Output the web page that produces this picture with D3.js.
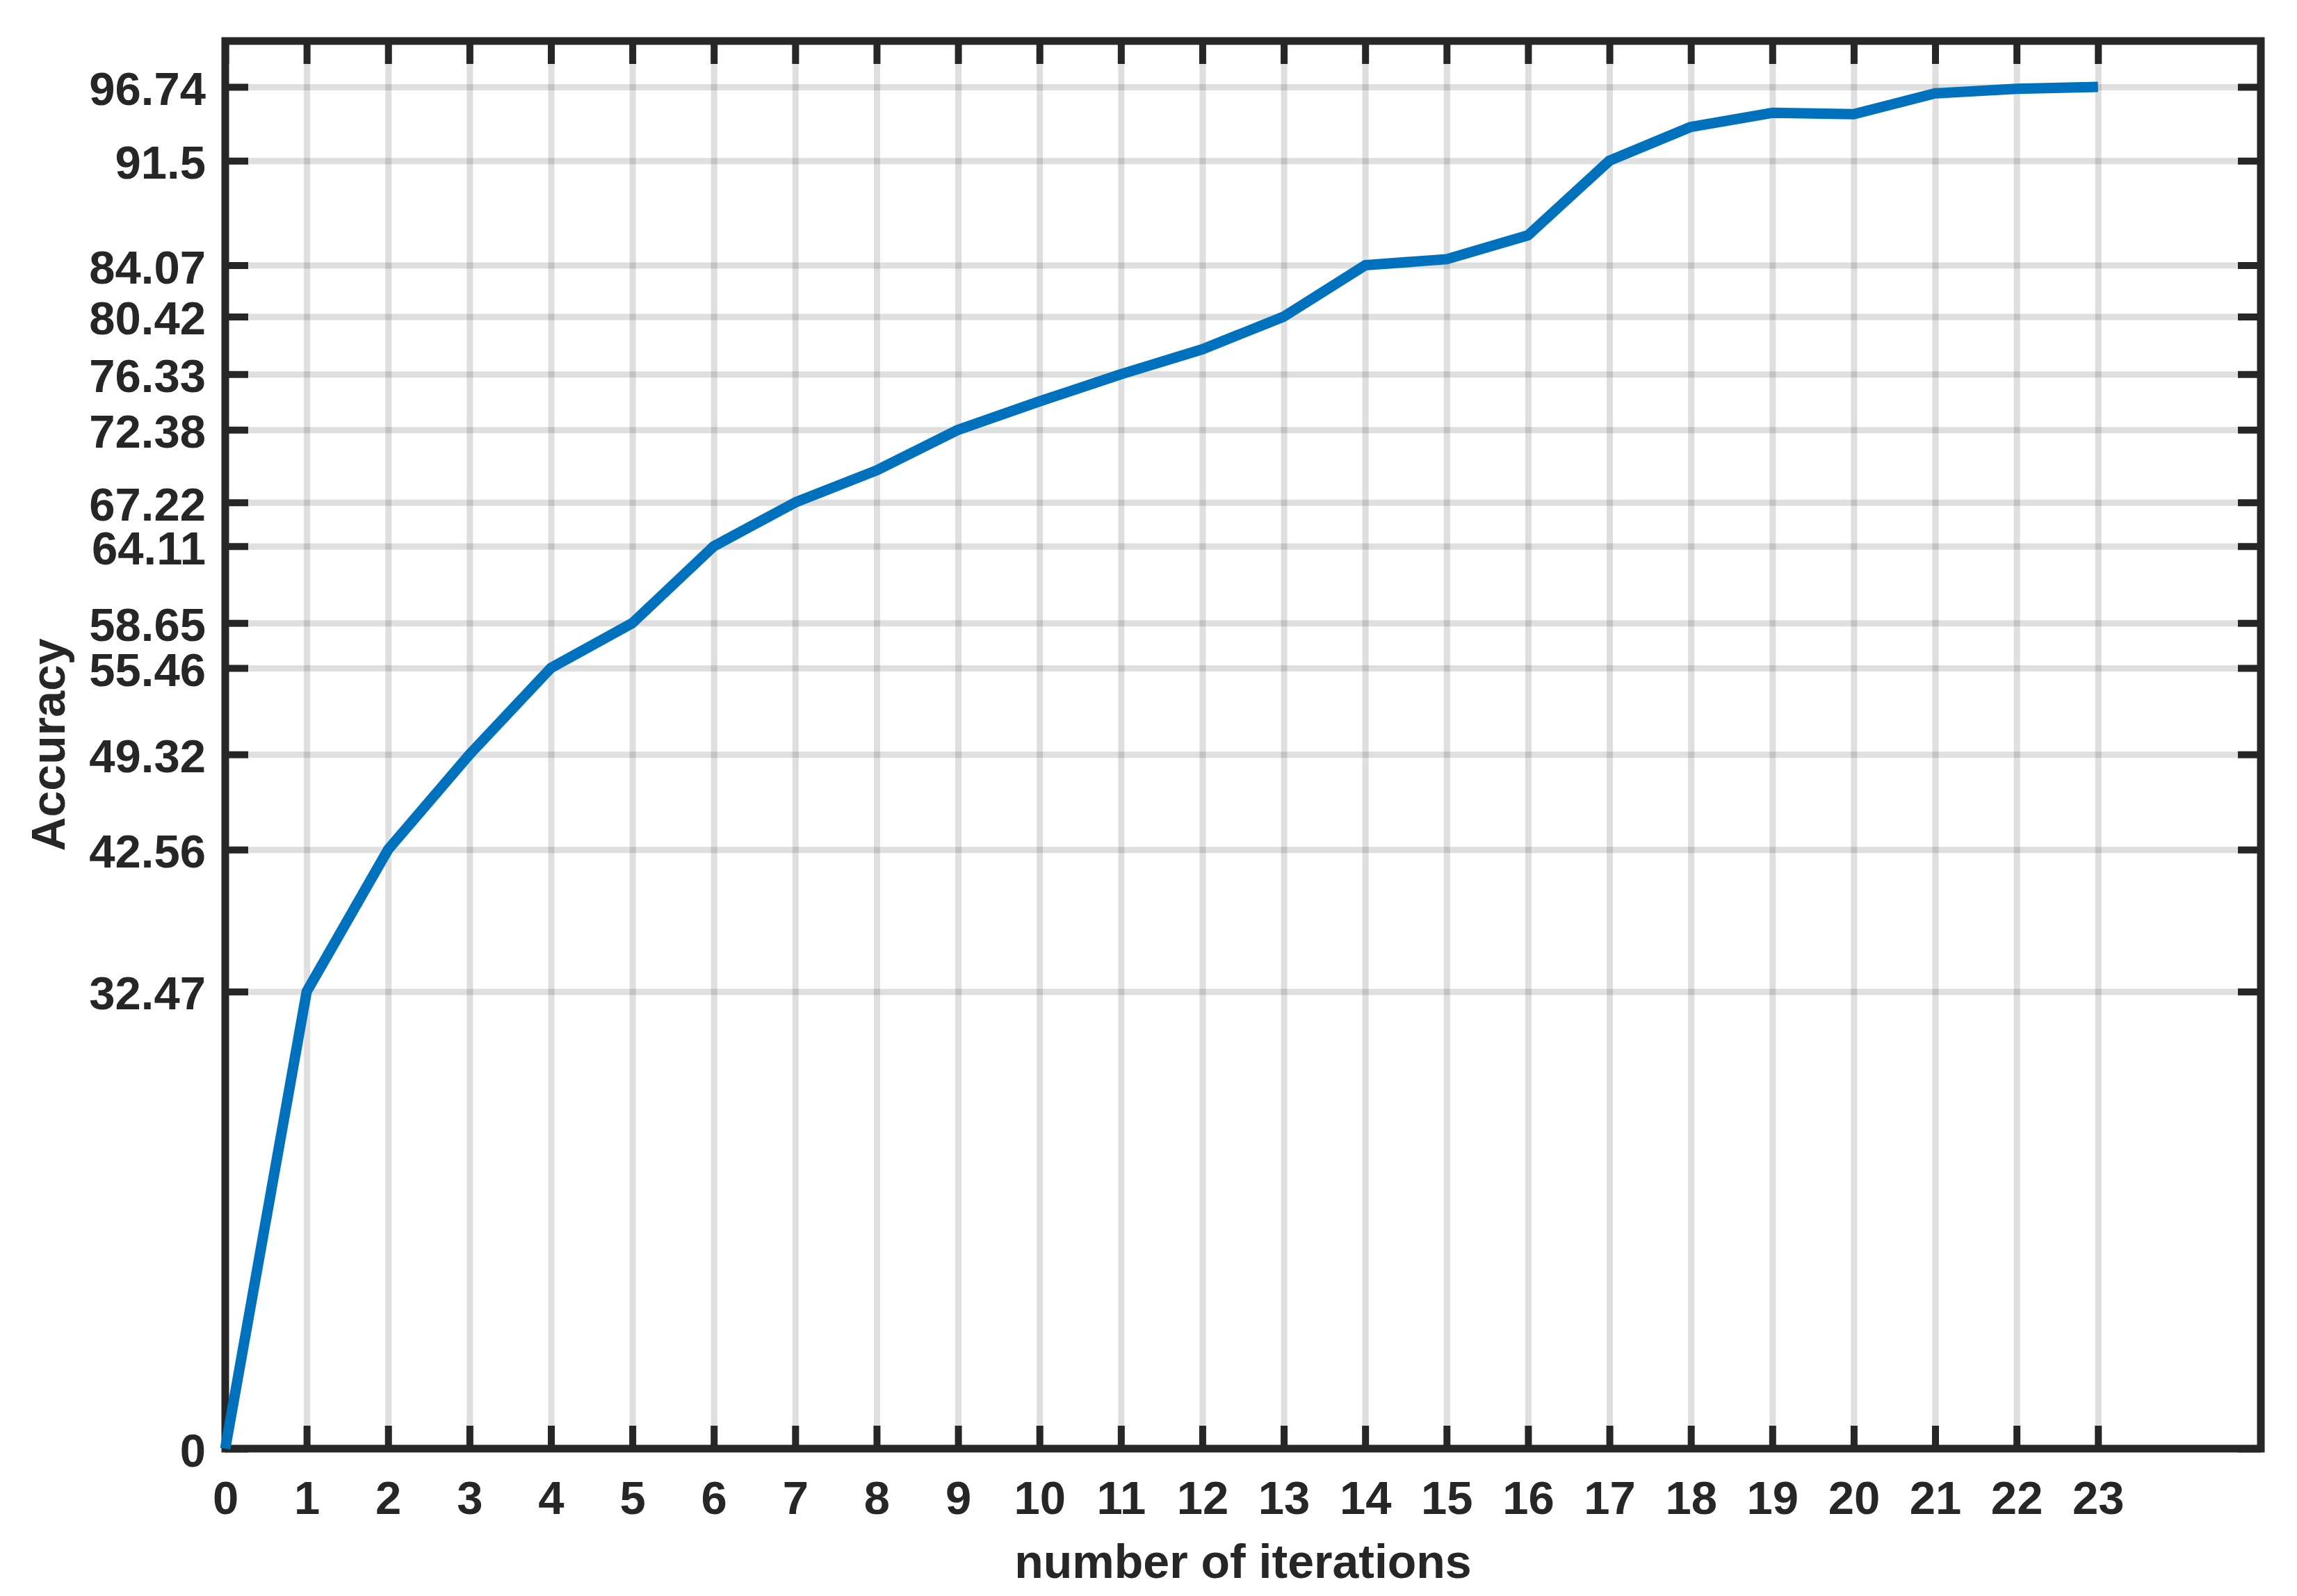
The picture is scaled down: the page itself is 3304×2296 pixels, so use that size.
<!DOCTYPE html>
<html>
<head>
<meta charset="utf-8">
<script src="https://cdn.jsdelivr.net/npm/d3@7/dist/d3.min.js"></script>
<style>
  html, body { margin: 0; padding: 0; background: #ffffff; }
  svg { display: block; }
  text { font-family: "Liberation Sans", Arial, Helvetica, sans-serif; font-weight: bold; fill: #262626; }
</style>
</head>
<body>
<script>
// ---- data ----
const iterations = [0, 1, 2, 3, 4, 5, 6, 7, 8, 9, 10, 11, 12, 13, 14, 15, 16, 17, 18, 19, 20, 21, 22, 23];
const accuracy = [0, 32.47, 42.56, 49.32, 55.46, 58.65, 64.11, 67.22, 69.5, 72.38, 74.4, 76.33, 78.1, 80.42, 84.07, 84.5, 86.2, 91.5, 93.9, 94.9, 94.8, 96.28, 96.6, 96.74];
const xTickValues = [0, 1, 2, 3, 4, 5, 6, 7, 8, 9, 10, 11, 12, 13, 14, 15, 16, 17, 18, 19, 20, 21, 22, 23];
const yTickValues = [0, 32.47, 42.56, 49.32, 55.46, 58.65, 64.11, 67.22, 72.38, 76.33, 80.42, 84.07, 91.5, 96.74];
const xDomain = [0, 25];
const yDomain = [0, 100];
const xTitle = "number of iterations";
const yTitle = "Accuracy";

(function () {
  // ---- layout ----
  const W = 3304, H = 2296;
  const pL = 324, pR = 3252, pT = 59, pB = 2084;
  const axisColor = "#262626";
  const fontSize = 67;

  const svg = d3.select("body").append("svg")
    .attr("width", W).attr("height", H)
    .attr("viewBox", `0 0 ${W} ${H}`);

  svg.append("rect").attr("width", W).attr("height", H).attr("fill", "#ffffff");

  const x = d3.scaleLinear().domain(xDomain).range([pL, pR]);
  const y = d3.scaleLinear().domain(yDomain).range([pB, pT]);

  // ---- grid ----
  const gridX = svg.append("g")
    .attr("transform", `translate(0,${pB})`)
    .call(d3.axisBottom(x).tickValues(xTickValues).tickSize(-(pB - pT)).tickFormat(""));
  const gridY = svg.append("g")
    .attr("transform", `translate(${pL},0)`)
    .call(d3.axisLeft(y).tickValues(yTickValues).tickSize(-(pR - pL)).tickFormat(""));
  [gridX, gridY].forEach(g => {
    g.select(".domain").remove();
    g.selectAll(".tick line").attr("stroke", axisColor).attr("stroke-opacity", 0.15).attr("stroke-width", 9);
  });

  // ---- ticks and labels ----
  const tickLen = 33;
  const tickW = 10;

  const axB = svg.append("g").attr("transform", `translate(0,${pB})`)
    .call(d3.axisBottom(x).tickValues(xTickValues).tickSizeInner(-tickLen).tickSizeOuter(0).tickPadding(46).tickFormat(d3.format("d")));
  const axT = svg.append("g").attr("transform", `translate(0,${pT})`)
    .call(d3.axisTop(x).tickValues(xTickValues).tickSizeInner(-tickLen).tickSizeOuter(0).tickFormat(""));
  const axL = svg.append("g").attr("transform", `translate(${pL},0)`)
    .call(d3.axisLeft(y).tickValues(yTickValues).tickSizeInner(-tickLen).tickSizeOuter(0).tickPadding(28).tickFormat(d => String(d)));
  const axR = svg.append("g").attr("transform", `translate(${pR},0)`)
    .call(d3.axisRight(y).tickValues(yTickValues).tickSizeInner(-tickLen).tickSizeOuter(0).tickFormat(""));

  [axB, axT, axL, axR].forEach(g => {
    g.select(".domain").remove();
    g.attr("font-size", null).attr("font-family", null);
    g.selectAll(".tick line").attr("stroke", axisColor).attr("stroke-width", tickW);
    g.selectAll(".tick text").attr("font-size", fontSize).attr("fill", axisColor);
  });
  axL.selectAll(".tick text").attr("dy", "0.38em");

  // ---- axes box ----
  svg.append("rect")
    .attr("x", x(xDomain[0])).attr("y", y(yDomain[1]))
    .attr("width", x(xDomain[1]) - x(xDomain[0]))
    .attr("height", y(yDomain[0]) - y(yDomain[1]))
    .attr("fill", "none").attr("stroke", axisColor).attr("stroke-width", 11);

  // ---- data line ----
  const line = d3.line().x((d, i) => x(iterations[i])).y(d => y(d));
  svg.append("path")
    .datum(accuracy)
    .attr("d", line)
    .attr("fill", "none")
    .attr("stroke", "#0072BD")
    .attr("stroke-width", 15)
    .attr("stroke-linejoin", "round");

  // ---- titles ----
  svg.append("text")
    .attr("x", (pL + pR) / 2).attr("y", 2270)
    .attr("text-anchor", "middle")
    .attr("font-size", fontSize + 1)
    .text(xTitle);

  svg.append("text")
    .attr("transform", `translate(93,${(pT + pB) / 2}) rotate(-90)`)
    .attr("text-anchor", "middle")
    .attr("font-size", fontSize + 1)
    .text(yTitle);
})();
</script>
</body>
</html>
